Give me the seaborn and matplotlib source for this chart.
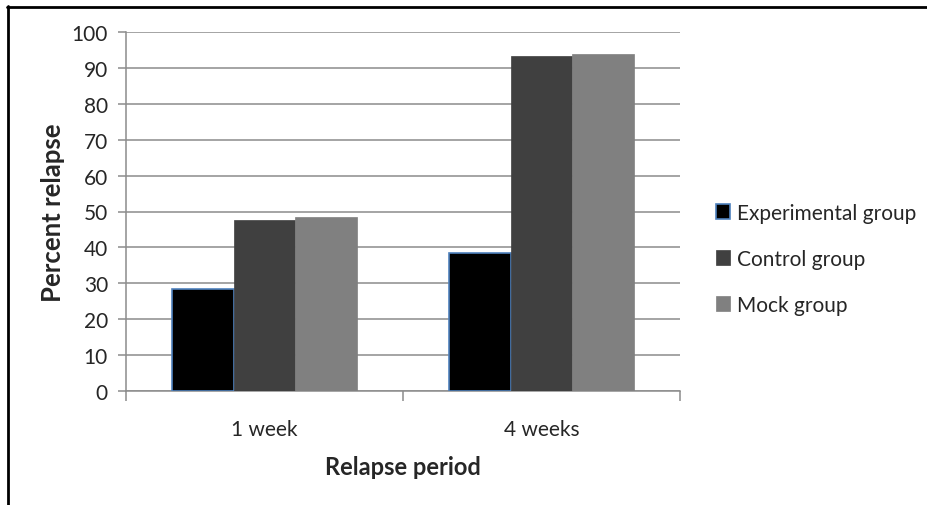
import matplotlib
matplotlib.use("Agg")
import matplotlib.pyplot as plt
import seaborn as sns
import pandas as pd
from matplotlib.patches import Patch
from matplotlib.lines import Line2D

periods = ["1 week", "4 weeks"]
groups = ["Experimental group", "Control group", "Mock group"]
experimental = [28.5, 38.5]
control = [47.6, 93.3]
mock = [48.5, 93.9]
yticks = list(range(0, 101, 10))

colors = ["#000000", "#404040", "#808080"]
edgecolors = ["#4F81BD", "#404040", "#808080"]

df = pd.DataFrame({
    "period": periods * 3,
    "group": [groups[0]] * 2 + [groups[1]] * 2 + [groups[2]] * 2,
    "value": experimental + control + mock,
})

sns.set_style("white")
plt.rcParams["font.family"] = ["Lato", "DejaVu Sans"]

fig = plt.figure(figsize=(9.28, 5.06), dpi=100)
W, H = 928, 506
ax = fig.add_axes([126 / W, (H - 392) / H, (680 - 126) / W, (392 - 33) / H])

sns.barplot(data=df, x="period", y="value", hue="group", order=periods,
            hue_order=groups, palette=colors, width=0.667, gap=0,
            ax=ax, legend=False, saturation=1, zorder=3)

for i, cont in enumerate(ax.containers):
    for bar in cont:
        bar.set_edgecolor(edgecolors[i])
        bar.set_linewidth(1.2 if i == 0 else 0.5)

ax.set_xlim(-0.5, 1.5)
ax.set_ylim(0, 100)
ax.set_yticks(yticks)
ax.set_yticklabels([str(t) for t in yticks], fontsize=15)
ax.yaxis.grid(True, color="#8c8c8c", linewidth=1.1, zorder=0)
ax.xaxis.grid(False)
ax.set_axisbelow(True)

for s in ["top", "right"]:
    ax.spines[s].set_visible(False)
for s in ["left", "bottom"]:
    ax.spines[s].set_color("#8c8c8c")
    ax.spines[s].set_linewidth(1.1)

ax.tick_params(axis="y", which="both", left=True, length=6, width=1.1,
               color="#8c8c8c", direction="out", pad=7, labelsize=15)
ax.set_xticks([-0.5, 0.5, 1.5], minor=False)
ax.set_xticklabels(["", "", ""])
ax.set_xticks([0, 1], minor=True)
ax.set_xticklabels(periods, minor=True, fontsize=15)
ax.tick_params(axis="x", which="major", bottom=True, length=7, width=1.1,
               color="#8c8c8c", direction="out")
ax.tick_params(axis="x", which="minor", bottom=False, length=0, pad=20, labelsize=15)

ax.set_ylabel("Percent relapse", fontsize=18.5, fontweight="bold", labelpad=5)
ax.set_xlabel("Relapse period", fontsize=17, fontweight="bold", labelpad=12)

handles = [Patch(facecolor=colors[i], edgecolor=edgecolors[i],
                 linewidth=1.2 if i == 0 else 0.5) for i in range(3)]
fig.legend(handles, groups, loc="center left",
           bbox_to_anchor=(697 / W, (H - 260) / H), frameon=False,
           fontsize=15, handlelength=0.7, handleheight=0.7,
           handletextpad=0.3, labelspacing=1.25)

# outer border lines (top and left)
fig.add_artist(Line2D([7 / W, 1], [1 - 7.5 / H, 1 - 7.5 / H], color="black",
                      linewidth=2, transform=fig.transFigure))
fig.add_artist(Line2D([7.5 / W, 7.5 / W], [0, 1 - 7 / H], color="black",
                      linewidth=2, transform=fig.transFigure))

fig.savefig("out.png", dpi=100)
